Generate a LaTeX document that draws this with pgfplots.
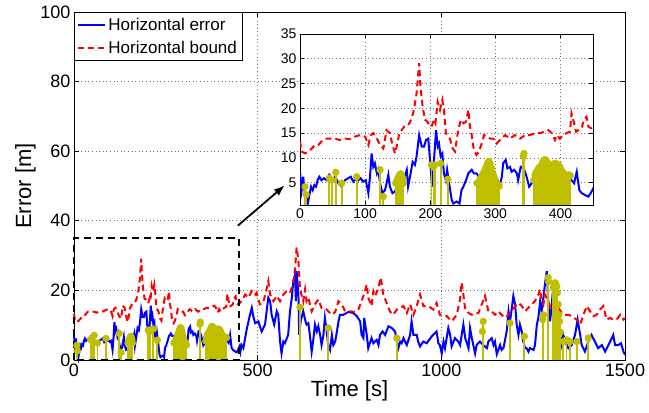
\documentclass[border=0pt]{standalone}
\usepackage{fontspec}
\setmainfont{Liberation Sans}
\usepackage{pgfplots}
\pgfplotsset{compat=1.18}
\usepackage{pgfplotstable}
\usetikzlibrary{arrows.meta}
\definecolor{mblue}{rgb}{0,0,1}
\definecolor{mred}{rgb}{1,0,0}
\definecolor{molive}{rgb}{0.75,0.75,0}

\pgfplotstableread{
x y
0 7.2
2.6 3.5
5 6.2
6.7 3.5
9 2.9
12 0.8
14 2.2
17 4.2
19.5 3.5
22 4.5
24.6 4.2
27 5.5
29.7 6.2
33 5.5
37 5.9
41 5.5
45 6.6
49 5.9
51 5.5
54 6.2
59 4.9
64 4.2
69 5.5
74 5.9
78 6.2
82 5.2
86 5.9
90 5.5
93 5.9
97 5.2
101 5.5
105 2.9
107.5 6.2
110 10.9
112.6 8.2
115 8.9
118 6.9
120 7.6
123 4.9
126.5 2.9
130.6 3.5
133 4.9
135.7 6.6
138 4.2
142 2.9
146 3.2
148.5 4.2
153.6 6.2
158.7 5.5
164 7.6
166 4.2
169 6.2
173 9.2
176.6 8.6
179 10.3
183 14.6
187 12.3
190.5 12.3
193.5 13.6
197 13.9
199.7 9.6
203 4.2
205.8 9.6
209 15.6
211.5 12.3
213.5 12.9
216 10.3
218.6 10.9
221 6.9
224 5.5
226 7.6
229 4.9
233 1.5
235.5 0.8
240.6 1.2
245 0.8
248 3.5
251 4.2
255 5.5
258.6 6.9
263.7 7.6
267 6.9
271 6.9
276.5 5.9
281.6 6.2
286.7 5.5
292 5.9
297 6.9
302 5.9
306 4.2
310 6.2
312 8.9
316 9.6
318.5 7.9
322.6 8.2
325 7.2
329 7.6
333 6.9
335 5.5
339 8.2
343 7.9
345.6 7.2
348 6.2
352 4.2
356 4.9
361 6.9
366 6.2
371 5.5
376 6.9
381.5 6.2
386.6 5.5
391.7 6.9
397 4.9
402 5.2
407 6.2
412 5.5
417 5.5
421 4.9
425 7.2
429 3.5
432.6 2.9
437.8 2.5
443 2.2
446.5 2.9
450.6 3.9
453 2.4
456 4.3
461 3.4
470 8.7
479 13.0
484 15
488 12.6
493 10.6
502 11.1
506 9.7
511 8.2
520 10.2
529 17.9
534 16.9
538 13
545 10.2
552 14
556 13
561 5.3
565 1.9
570 5.3
574 4.8
583 7.2
588 14
593 17.9
597 22.7
602 24.6
604 16.9
606 25.6
611 18.8
613 7.2
617 11.1
624 14
629 11.6
633 10.2
638 10.6
642 7.2
647 2.4
652 6.3
656 10.2
661 8.2
665 9.7
670 7.2
674 4.3
679 7.2
683 12.1
688 8.2
692 4.3
697 2.9
702 7.2
706 4.3
711 5.3
715 7.7
720 11.1
724 13.0
733 13.0
747 13.8
760 13.5
770 12.6
779 11.1
783 7.2
788 6.3
790 12.1
797 7.2
801 3.4
810 6.3
815 4.8
819 5.3
824 5.8
829 4.3
833 7.2
840 8.2
847 7.2
856 9.7
865 9.2
874 8.2
879 5.3
883 3.4
888 5.3
892 4.8
897 6.3
901 5.3
906 4.3
915 7.2
919 11.1
924 7.2
933 7.2
937 5.3
942 3.9
951 5.3
960 4.8
974 6.8
987 8.2
992 4.8
996 4.3
1001 1.9
1006 5.3
1010 3.4
1019 9.2
1024 7.2
1028 3.9
1037 6.3
1046 5.3
1051 4.3
1060 10.2
1065 6.3
1074 3.4
1078 9.2
1083 6.3
1087 4.3
1092 1.9
1096 4.3
1105 5.3
1114 4.3
1124 3.4
1128 5.3
1137 6.3
1142 4.3
1146 5.3
1151 1.7
1160 4.3
1164 2.9
1169 3.4
1178 8.2
1183 14
1187 11.1
1192 15
1196 18.4
1201 15.9
1205 10.2
1210 7.2
1214 10.2
1219 8.2
1223 5.3
1228 3.4
1232 3.4
1237 2.4
1241 3.4
1251 2.9
1255 4.3
1260 10.2
1264 12.1
1269 16.9
1273 14
1278 17.9
1282 21.7
1287 25.6
1291 16.9
1296 11.1
1300 15
1305 21.7
1310 20.8
1314 14
1319 11.1
1323 7.2
1328 4.3
1332 7.2
1337 5.3
1346 3.4
1355 4.3
1364 7.2
1371 11.6
1378 7.2
1382 4.3
1391 2.4
1400 5.3
1409 7.2
1418 5.3
1427 3.4
1437 4.3
1446 2.4
1455 4.3
1464 6.3
1468 7.2
1473 4.3
1482 4.3
1489 4.8
1496 2.4
1500 1.5
}\errtable

\pgfplotstableread{
x y
0 13.3
2.6 11.3
7.7 10.9
12.8 11.3
18 11.9
23 12.6
28 12.6
33 13.3
38 13.9
46 13.9
54 13.9
61 13.6
69 13.9
77 13.8
84.5 14.3
92 14.6
100 14.3
105 12.6
108.5 14.6
112.6 15
118 13.9
123 12.6
128 11.9
133 15.6
138 15
142 12.6
146 10.9
149.5 12.9
152.6 15
156 15.6
160 16.3
164 16.3
168 17
171.5 18
175 19.7
179 23
183 29.1
185 24.4
188.4 20.3
192 17.7
195.6 17.3
198.7 16.6
202 16.3
205.8 17.7
208 17
211.5 21.3
215 19.7
218.6 21.7
221 19.7
224 15
228 14.3
230 13.9
234.5 11.9
238 11.3
243 15.6
247 17.7
251 17
255 17.3
258.6 19.7
261 16.3
263.7 14.6
267 11.6
271 10.6
275 11.3
279 12.9
282.6 14.6
286.7 14.3
292 13.9
297 13.9
302 12.9
307 13.6
315 14.6
322.6 13.9
330 14.6
338 13.9
345.6 14.6
353 14.6
361 15
368.7 15
376 15.3
381.5 15.6
386.6 15
391.7 13.6
395 14.6
399 13.9
404.5 14.6
409.6 15
414.7 15.3
417 19
421 17
424 15.3
427.6 15.6
432.6 16
436 17.7
440 18.3
443 16.3
447 16
456 16.9
466 18.8
475 17.9
484 19.8
493 18.8
497 19.3
506 16
515 16.4
525 20.8
529 22.7
534 18.8
543 16.9
552 18.4
561 16.9
570 18.8
579 19.8
588 19.3
597 22.2
602 26.6
606 32.4
611 28.5
615 20.8
620 18.4
624 16.9
629 20.3
633 16.9
638 17.9
647 14
656 16
665 17.4
674 15
683 15
692 14
702 13
711 13.8
720 16.9
729 16
738 14
751 14
765 13.8
774 14.5
783 16.9
792 19.8
797 21.7
801 17.9
810 15.5
815 19.8
820 18.4
829 20.8
835 23.7
842 18.8
851 16.4
860 14
869 13
879 14.5
888 15
897 15.5
906 13.5
915 16
924 13
933 15.5
942 18.8
951 15.5
965 15.5
978 14.5
987 16.4
996 13
1006 12.6
1015 12.6
1028 11.1
1042 13
1051 17.4
1055 22.2
1060 18.8
1065 14.5
1074 13.5
1083 13
1092 13.5
1101 13.5
1110 16
1119 18.4
1128 14
1137 14
1146 13
1155 14
1164 13
1173 12.1
1183 13
1192 14
1201 15.5
1210 16.4
1219 15.5
1228 14
1237 15
1246 16
1255 16.9
1264 18.8
1269 20.3
1273 17.4
1278 16
1282 18.8
1291 16.9
1300 14
1310 13.5
1319 15
1328 13.5
1337 13
1346 13
1355 12.6
1368 11.6
1378 10.2
1387 13
1396 15.5
1405 14
1414 12.6
1423 13
1432 14.5
1441 15.5
1450 11.6
1459 12.1
1468 11.6
1477 11.6
1487 13
1496 11.6
1500 12.0
}\boundtable

\pgfplotstableread{
x y
7.7 4.2
9.5 2.6
45 5.9
49 5.5
55 7.1
64 4.9
87 6.2
123 7.6
128 2.2
147 4.9
148.5 5.4
150 5.8
151.5 6.2
153 6.6
154.5 6.8
156 6.5
157.5 5.8
159 4.9
202 8.6
205 8.2
207 8.6
216 8.9
227 5.7
272 4.9
274 5.0
276 5.5
278 6.0
280 6.5
282 7.0
284 7.6
286 8.2
288 8.9
290 9.3
292 8.9
294 8.0
296 7.0
298 6.2
300 5.5
302 5.0
304 4.6
306 4.3
343 10.3
344 10.9
359 5.5
361 6.6
363 7.2
365 7.6
367 8.0
369 8.2
371 8.6
373 9.2
375 9.6
377 9.6
379 9.2
381 8.9
383 8.6
385 8.2
387 8.2
389 8.6
391 8.9
393 8.9
395 8.6
397 8.6
399 8.2
401 7.6
403 7.2
405 6.9
407 6.6
409 6.4
411 6.4
413 6.6
415 6.4
615 15.2
692 9.2
879 6.3
1112 8.2
1114 11.1
1187 10.6
1226 6.8
1276 11.6
1278 13
1291 23.7
1292 22.5
1305 20.8
1308 21.5
1310 22.2
1312 21.7
1314 21.0
1316 19.3
1318 16
1320 13
1322 11.1
1324 8
1332 5.3
1341 5.8
1350 5.3
1369 5.3
1400 6.3
}\stemtable

\pgfplotsset{
  mgrid/.style={grid=major, major grid style={draw=black!55, line width=0.7pt, dash pattern=on 1pt off 2.6pt}},
}

\begin{document}
\begin{tikzpicture}
\path[use as bounding box] (-74pt,-53pt) rectangle (575pt,360pt);
\begin{axis}[
  name=main, at={(0,0)}, anchor=south west,
  scale only axis, width=551pt, height=348pt,
  xmin=0, xmax=1500, ymin=0, ymax=100,
  xtick={0,500,1000,1500}, ytick={0,20,...,100},
  mgrid,
  tick align=inside, major tick length=5pt,
  axis line style={line width=0.8pt},
  every tick/.style={black, line width=0.8pt},
  /pgf/number format/assume math mode=true,
  /pgf/number format/1000 sep={},
  ticklabel style={font=\fontsize{18}{20}\selectfont},
  xlabel={Time [s]}, ylabel={Error [m]},
  label style={font=\fontsize{22}{24}\selectfont},
  xlabel style={yshift=3pt},
  ylabel style={yshift=-2pt},
  legend style={at={(0,1)}, anchor=north west, font=\fontsize{17}{19}\selectfont,
    draw=black, line width=0.8pt, inner xsep=3pt, inner ysep=4pt,
    row sep=4.5pt},
  legend cell align=left,
  legend image code/.code={\draw[#1] (0pt,0pt) -- (27pt,0pt);},
  clip=false,
]
\addplot[mblue, line width=2pt] table {\errtable};
\addlegendentry{Horizontal error}
\addplot[mred, line width=2pt, dash pattern=on 6pt off 4pt] table {\boundtable};
\addlegendentry{Horizontal bound}
\addplot[molive, line width=1.8pt, ycomb, mark=*, mark size=2.7pt, mark options={solid, fill=molive}, forget plot] table {\stemtable};
\draw[black, line width=2.4pt, dash pattern=on 7pt off 5pt] (axis cs:0,0) rectangle (axis cs:450,35);
\draw[-{Latex[length=11pt,width=8pt]}, line width=1.8pt] (axis cs:446,38.6) -- (axis cs:574,50.2);
\end{axis}

\begin{axis}[
  at={(226pt,155pt)}, anchor=south west,
  scale only axis, width=293pt, height=171pt,
  xmin=0, xmax=450, ymin=0.5, ymax=35,
  xtick={0,100,...,400}, ytick={5,10,...,35},
  mgrid,
  axis background/.style={fill=white},
  tick align=inside, major tick length=4pt,
  axis line style={line width=0.8pt},
  every tick/.style={black, line width=0.8pt},
  /pgf/number format/assume math mode=true,
  ticklabel style={font=\fontsize{14}{16}\selectfont},
  restrict x to domain=-10:470,
]
\addplot[mblue, line width=2pt] table {\errtable};
\addplot[mred, line width=2pt, dash pattern=on 6pt off 4pt] table {\boundtable};
\addplot[molive, line width=1.8pt, ycomb, mark=*, mark size=2.7pt, mark options={solid, fill=molive}] table {\stemtable};
\end{axis}
\end{tikzpicture}
\end{document}
